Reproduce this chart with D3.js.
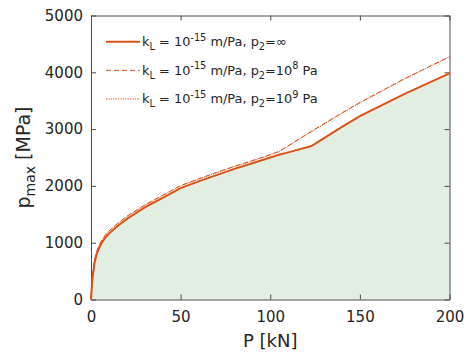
<!DOCTYPE html>
<html>
<head>
<meta charset="utf-8">
<script src="https://cdn.jsdelivr.net/npm/d3@7"></script>
<style>
  html, body { margin: 0; padding: 0; background: #fff; }
  svg { display: block; font-family: "DejaVu Sans", sans-serif; }
</style>
</head>
<body>
<svg id="chart" width="467" height="356"></svg>
<script>
// Applied load P [kN], shared by all three series
const loadKN = [0, 0.5, 1, 2, 3, 4, 6, 8, 10, 15, 20, 30, 40, 50, 60, 70, 80, 90, 100, 105, 110, 123, 140, 150, 175, 200];
// Maximum pressure p_max [MPa] for each permeability boundary condition
const pmaxInf = [0, 250, 420, 650, 780, 870, 1000, 1090, 1160, 1300, 1420, 1620, 1790, 1960, 2080, 2190, 2300, 2400, 2500, 2550, 2590, 2702, 3040, 3230, 3620, 3982];
const pmax1e8 = [0, 280, 460, 700, 830, 920, 1045, 1135, 1205, 1345, 1465, 1665, 1835, 2005, 2125, 2235, 2345, 2445, 2550, 2610, 2705, 2962, 3285, 3470, 3890, 4275];
const pmax1e9 = [0, 270, 450, 690, 820, 910, 1040, 1130, 1200, 1340, 1460, 1660, 1830, 2000, 2120, 2230, 2340, 2440, 2545, 2605, 2700, 2955, 3278, 3462, 3885, 4270];

const xTicks = [0, 50, 100, 150, 200];
const yTicks = [0, 1000, 2000, 3000, 4000, 5000];

const lineColor = "#d95319";
const fillColor = "#e1eee1";
const axisColor = "#4d4d4d";
const textColor = "#262626";
const font = "DejaVu Sans, sans-serif";

const svg = d3.select("#chart");
const x = d3.scaleLinear().domain([0, 200]).range([91, 449.5]);
const y = d3.scaleLinear().domain([0, 5000]).range([299.5, 15.5]);

const toPts = vals => loadKN.map((p, i) => [p, vals[i]]);

// shaded region under the p2 = infinity curve
svg.append("path")
  .datum(toPts(pmaxInf))
  .attr("fill", fillColor)
  .attr("d", d3.area().x(d => x(d[0])).y0(y(0)).y1(d => y(d[1])));

// axes with inward ticks on all four sides
const tickLen = 5;
const fmt = d3.format("d");
const gx = svg.append("g").attr("transform", `translate(0,${y(0)})`)
  .call(d3.axisBottom(x).tickValues(xTicks).tickFormat(fmt).tickSizeInner(-tickLen).tickSizeOuter(0).tickPadding(12));
const gy = svg.append("g").attr("transform", `translate(${x(0)},0)`)
  .call(d3.axisLeft(y).tickValues(yTicks).tickFormat(fmt).tickSizeInner(-tickLen).tickSizeOuter(0).tickPadding(8));
const gt = svg.append("g").attr("transform", `translate(0,${y(5000)})`)
  .call(d3.axisTop(x).tickValues(xTicks).tickSizeInner(-tickLen).tickSizeOuter(0).tickFormat(""));
const gr = svg.append("g").attr("transform", `translate(${x(200)},0)`)
  .call(d3.axisRight(y).tickValues(yTicks).tickSizeInner(-tickLen).tickSizeOuter(0).tickFormat(""));

[gx, gy, gt, gr].forEach(g => {
  g.select(".domain").attr("stroke", axisColor).attr("stroke-width", 1);
  g.selectAll(".tick line").attr("stroke", axisColor);
  g.selectAll(".tick text").attr("fill", textColor).attr("font-size", 15)
    .attr("font-family", font);
});

// curves
const line = d3.line().x(d => x(d[0])).y(d => y(d[1]));
const series = [
  { vals: pmax1e8, width: 1, dash: "5,3" },
  { vals: pmax1e9, width: 1, dash: "1.2,1.2" },
  { vals: pmaxInf, width: 2, dash: null }
];
series.forEach(s => {
  svg.append("path")
    .datum(toPts(s.vals))
    .attr("fill", "none")
    .attr("stroke", lineColor)
    .attr("stroke-width", s.width)
    .attr("stroke-dasharray", s.dash)
    .attr("d", line);
});

// axis titles
svg.append("text")
  .attr("x", (x(0) + x(200)) / 2).attr("y", 347)
  .attr("text-anchor", "middle").attr("font-size", 18).attr("fill", textColor)
  .text("P [kN]");

const yt = svg.append("text")
  .attr("transform", `translate(30,${(y(0) + y(5000)) / 2}) rotate(-90)`)
  .attr("text-anchor", "middle").attr("font-size", 19).attr("fill", textColor);
yt.append("tspan").text("p");
yt.append("tspan").attr("font-size", 14).attr("dy", 5).text("max");
yt.append("tspan").attr("dy", -5).text(" [MPa]");

// legend
const legendRows = [
  { dash: null, width: 2, p2: "=\u221E", exp: null },
  { dash: "5,3", width: 1, p2: "=10", exp: "8" },
  { dash: "1.2,1.2", width: 1, p2: "=10", exp: "9" }
];
const legend = svg.append("g");
const fs = 12.9, fsSmall = 9.8;
legendRows.forEach((r, i) => {
  const cy = 41.7 + i * 28.6;
  legend.append("line")
    .attr("x1", 106).attr("x2", 140).attr("y1", cy).attr("y2", cy)
    .attr("stroke", lineColor).attr("stroke-width", r.width)
    .attr("stroke-dasharray", r.dash);
  const t = legend.append("text")
    .attr("x", 142).attr("y", cy + 4.5)
    .attr("font-size", fs).attr("fill", textColor);
  t.append("tspan").text("k");
  t.append("tspan").attr("font-size", fsSmall).attr("dy", 4).text("L");
  t.append("tspan").attr("dy", -4).text(" = 10");
  t.append("tspan").attr("font-size", fsSmall).attr("dy", -5.5).text("-15");
  t.append("tspan").attr("dy", 5.5).text(" m/Pa, p");
  t.append("tspan").attr("font-size", fsSmall).attr("dy", 4).text("2");
  t.append("tspan").attr("dy", -4).text(r.p2);
  if (r.exp) {
    t.append("tspan").attr("font-size", fsSmall).attr("dy", -5.5).text(r.exp);
    t.append("tspan").attr("dy", 5.5).text(" Pa");
  }
});
</script>
</body>
</html>
